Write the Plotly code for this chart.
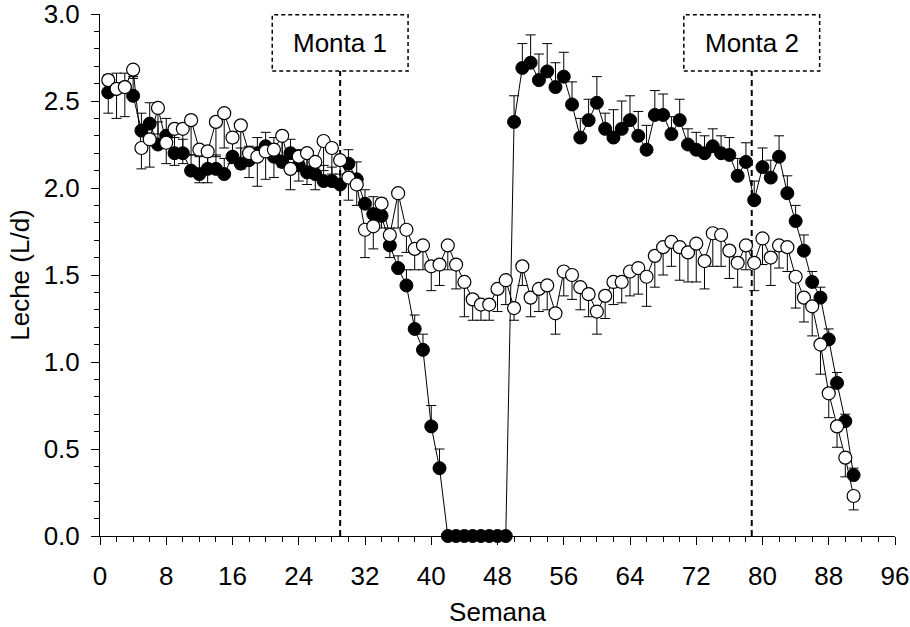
import plotly.graph_objects as go

weeks = list(range(1, 92))

filled = [2.55, 2.57, 2.58, 2.53, 2.33, 2.37, 2.25, 2.30, 2.20, 2.20,
          2.10, 2.08, 2.11, 2.11, 2.08, 2.18, 2.14, 2.16, 2.20, 2.24,
          2.18, 2.15, 2.20, 2.13, 2.09, 2.08, 2.04, 2.04, 2.02, 2.14,
          2.05, 1.91, 1.85, 1.84, 1.67, 1.54, 1.44, 1.19, 1.07, 0.63,
          0.39, 0.0, 0.0, 0.0, 0.0, 0.0, 0.0, 0.0, 0.0, 2.38,
          2.69, 2.72, 2.62, 2.67, 2.58, 2.64, 2.48, 2.29, 2.39, 2.49,
          2.34, 2.29, 2.34, 2.39, 2.30, 2.22, 2.42, 2.42, 2.31, 2.39,
          2.25, 2.22, 2.20, 2.24, 2.20, 2.19, 2.07, 2.15, 1.93, 2.12,
          2.06, 2.18, 1.97, 1.81, 1.64, 1.46, 1.37, 1.13, 0.88, 0.66,
          0.35]

filled_se = [0.10, 0.09, 0.08, 0.11, 0.10, 0.12, 0.13, 0.10, 0.09, 0.08,
             0.09, 0.10, 0.08, 0.08, 0.09, 0.08, 0.09, 0.08, 0.09, 0.08,
             0.11, 0.14, 0.08, 0.09, 0.08, 0.09, 0.09, 0.08, 0.06, 0.08,
             0.10, 0.08, 0.10, 0.10, 0.10, 0.07, 0.09, 0.08, 0.09, 0.12,
             0.11, 0.0, 0.0, 0.0, 0.0, 0.0, 0.0, 0.0, 0.0, 0.15,
             0.14, 0.16, 0.15, 0.16, 0.14, 0.14, 0.13, 0.11, 0.12, 0.15,
             0.09, 0.16, 0.16, 0.14, 0.14, 0.14, 0.14, 0.12, 0.10, 0.12,
             0.09, 0.10, 0.10, 0.10, 0.10, 0.10, 0.10, 0.11, 0.11, 0.11,
             0.10, 0.12, 0.10, 0.09, 0.09, 0.06, 0.06, 0.06, 0.06, 0.04,
             0.04]

open_ = [2.62, 2.57, 2.58, 2.68, 2.23, 2.28, 2.46, 2.26, 2.34, 2.34,
         2.39, 2.22, 2.21, 2.38, 2.43, 2.29, 2.36, 2.20, 2.18, 2.21,
         2.22, 2.30, 2.11, 2.18, 2.20, 2.15, 2.27, 2.23, 2.16, 2.06,
         2.02, 1.76, 1.78, 1.91, 1.73, 1.97, 1.76, 1.65, 1.67, 1.55,
         1.56, 1.67, 1.56, 1.46, 1.36, 1.33, 1.33, 1.42, 1.47, 1.31,
         1.55, 1.37, 1.42, 1.44, 1.28, 1.52, 1.50, 1.43, 1.39, 1.29,
         1.38, 1.46, 1.46, 1.52, 1.54, 1.49, 1.61, 1.66, 1.69, 1.66,
         1.63, 1.68, 1.58, 1.74, 1.73, 1.64, 1.57, 1.67, 1.57, 1.71,
         1.60, 1.67, 1.66, 1.49, 1.37, 1.32, 1.10, 0.82, 0.63, 0.45,
         0.23]

open_se = [0.19, 0.17, 0.17, 0.05, 0.12, 0.16, 0.15, 0.12, 0.21, 0.20,
           0.20, 0.19, 0.18, 0.20, 0.20, 0.15, 0.25, 0.14, 0.17, 0.16,
           0.16, 0.18, 0.12, 0.14, 0.18, 0.16, 0.17, 0.15, 0.14, 0.13,
           0.12, 0.16, 0.13, 0.14, 0.13, 0.20, 0.13, 0.12, 0.14, 0.14,
           0.12, 0.14, 0.14, 0.20, 0.12, 0.09, 0.09, 0.13, 0.14, 0.07,
           0.11, 0.11, 0.13, 0.14, 0.12, 0.14, 0.14, 0.13, 0.13, 0.13,
           0.13, 0.13, 0.12, 0.14, 0.15, 0.17, 0.18, 0.16, 0.14, 0.19,
           0.17, 0.22, 0.16, 0.19, 0.18, 0.16, 0.14, 0.14, 0.16, 0.15,
           0.16, 0.13, 0.14, 0.18, 0.14, 0.17, 0.17, 0.14, 0.12, 0.11,
           0.08]

x_ticks = [0, 8, 16, 24, 32, 40, 48, 56, 64, 72, 80, 88, 96]
y_ticks = [0.0, 0.5, 1.0, 1.5, 2.0, 2.5, 3.0]
y_tick_labels = ["0.0", "0.5", "1.0", "1.5", "2.0", "2.5", "3.0"]

monta_labels = ["Monta 1", "Monta 2"]
monta_weeks = [29, 78.7]

FONT = "Liberation Sans, Arial, sans-serif"
FS = 26

fig = go.Figure()

fig.add_trace(go.Scatter(
    x=weeks, y=filled, mode="lines+markers",
    line=dict(color="black", width=1),
    marker=dict(symbol="circle", size=13, color="black",
                line=dict(color="black", width=1)),
    error_y=dict(type="data", symmetric=False, array=filled_se,
                 arrayminus=[0] * len(filled_se), color="black",
                 thickness=1, width=5),
    showlegend=False, cliponaxis=False,
))

fig.add_trace(go.Scatter(
    x=weeks, y=open_, mode="lines+markers",
    line=dict(color="black", width=1),
    marker=dict(symbol="circle", size=13, color="white",
                line=dict(color="black", width=1.2)),
    error_y=dict(type="data", symmetric=False, array=[0] * len(open_se),
                 arrayminus=open_se, color="black",
                 thickness=1, width=5),
    showlegend=False, cliponaxis=False,
))

shapes = []
annotations = []
box_half = 8.2
box_bottom = 2.672
for lab, wk in zip(monta_labels, monta_weeks):
    shapes.append(dict(type="line", xref="x", yref="y",
                       x0=wk, x1=wk, y0=0, y1=box_bottom,
                       line=dict(color="black", width=2, dash="6px,4px"),
                       layer="below"))
    shapes.append(dict(type="rect", xref="x", yref="y",
                       x0=wk - box_half, x1=wk + box_half,
                       y0=box_bottom, y1=2.996,
                       line=dict(color="black", width=1.5, dash="4px,3px"),
                       fillcolor="white", layer="above"))
    annotations.append(dict(x=wk, y=(box_bottom + 3.0) / 2, xref="x", yref="y",
                            text=lab, showarrow=False,
                            font=dict(family=FONT, size=FS, color="black")))

fig.update_layout(
    width=910, height=627,
    margin=dict(l=99.5, r=15, t=14, b=91, autoexpand=False),
    paper_bgcolor="white", plot_bgcolor="white",
    font=dict(family=FONT, size=FS, color="black"),
    shapes=shapes, annotations=annotations,
    xaxis=dict(
        range=[0, 96], tickvals=x_ticks, ticktext=[str(v) for v in x_ticks],
        ticks="outside", ticklen=8, tickwidth=1, tickcolor="black",
        minor=dict(dtick=2, tick0=0, ticks="outside", ticklen=5,
                   tickwidth=1, tickcolor="black", showgrid=False),
        showline=True, linecolor="black", linewidth=1,
        showgrid=False, zeroline=False, automargin=False,
        ticklabelstandoff=9, ticklabeloverflow="allow",
        tickfont=dict(family=FONT, size=FS, color="black"),
        title=dict(text="Semana", font=dict(family=FONT, size=FS, color="black"),
                   standoff=12),
    ),
    yaxis=dict(
        range=[0, 3.0], tickvals=y_ticks, ticktext=y_tick_labels,
        ticks="outside", ticklen=8, tickwidth=1, tickcolor="black",
        minor=dict(dtick=0.1, tick0=0, ticks="outside", ticklen=5,
                   tickwidth=1, tickcolor="black", showgrid=False),
        showline=True, linecolor="black", linewidth=1,
        showgrid=False, zeroline=False, automargin=False,
        ticklabelstandoff=6, ticklabeloverflow="allow",
        tickfont=dict(family=FONT, size=FS, color="black"),
        title=dict(text="Leche (L/d)", font=dict(family=FONT, size=FS, color="black"),
                   standoff=6),
    ),
)

fig.write_html("out.html", config={"displayModeBar": False},
               post_script="document.body.style.margin='0';")
